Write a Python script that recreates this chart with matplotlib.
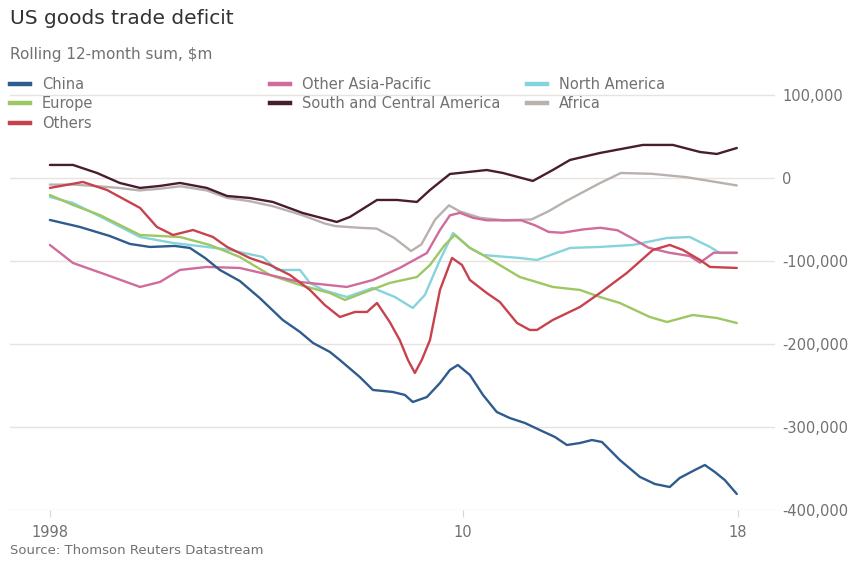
import matplotlib
matplotlib.use("Agg")
import matplotlib.pyplot as plt
from matplotlib.lines import Line2D

plt.rcParams['font.family'] = ['DejaVu Sans']

# ---- data (rolling 12-month sum, $m) ----
china_years = [1998.0, 1998.87, 1999.74, 2000.33, 2000.91, 2001.63, 2002.07, 2002.51, 2002.94,
               2003.52, 2004.10, 2004.77, 2005.27, 2005.65, 2006.14, 2006.43, 2007.01, 2007.39,
               2007.97, 2008.32, 2008.55, 2008.96, 2009.34, 2009.63, 2009.86, 2010.21, 2010.59,
               2010.99, 2011.37, 2011.81, 2012.24, 2012.68, 2013.03, 2013.41, 2013.76, 2014.05,
               2014.57, 2015.15, 2015.59, 2016.02, 2016.31, 2016.75, 2017.04, 2017.33, 2017.62,
               2017.97]
china_vals = [-50600, -59000, -69900, -79500, -83100, -81900, -84300, -96400, -110800,
              -124100, -144600, -171100, -185500, -198800, -209600, -219300, -239800, -255400,
              -257800, -261400, -269900, -263900, -247000, -231300, -225300, -237300, -261400,
              -281900, -289200, -295200, -303600, -312000, -321700, -319300, -315700, -318100,
              -339800, -360100, -368700, -372300, -361400, -351800, -345800, -354200, -363900,
              -380700]

europe_years = [1998.0, 1998.67, 1999.45, 2000.62, 2001.78, 2002.65, 2003.52, 2004.40, 2005.27,
                2006.14, 2006.58, 2007.10, 2007.88, 2008.67, 2009.05, 2009.48, 2009.77, 2010.21,
                2010.59, 2011.17, 2011.66, 2012.62, 2013.41, 2013.99, 2014.57, 2015.44, 2015.94,
                2016.69, 2017.39, 2017.97]
europe_vals = [-20500, -32500, -44600, -68700, -71100, -80700, -95200, -116900, -128900,
               -138600, -147000, -138600, -126500, -119300, -104800, -80700, -68700, -84300,
               -92800, -107200, -119300, -131300, -134900, -143400, -150600, -167500, -173500,
               -165100, -168700, -174700]

others_years = [1998.0, 1998.96, 1999.66, 2000.62, 2001.11, 2001.58, 2002.16, 2002.74, 2003.15,
                2003.81, 2004.40, 2004.98, 2005.56, 2005.99, 2006.43, 2006.87, 2007.22, 2007.51,
                2007.88, 2008.17, 2008.41, 2008.61, 2008.81, 2009.05, 2009.34, 2009.69, 2009.98,
                2010.21, 2010.70, 2011.08, 2011.58, 2011.95, 2012.16, 2012.62, 2013.41, 2013.99,
                2014.77, 2015.53, 2016.02, 2016.40, 2016.90, 2017.19, 2017.97]
others_vals = [-12000, -4800, -14500, -36100, -59000, -68700, -62700, -71100, -83100,
               -96400, -104800, -116900, -134900, -153000, -167500, -161400, -161400, -150600,
               -173500, -195200, -219300, -234900, -219300, -195200, -134900, -96400, -104800,
               -122900, -138600, -149400, -174700, -183100, -183100, -171100, -155400, -138600,
               -114500, -86700, -80700, -86700, -98800, -107200, -108400]

asia_years = [1998.0, 1998.67, 1999.66, 2000.62, 2001.20, 2001.78, 2002.56, 2003.52, 2004.40,
              2005.27, 2006.63, 2007.39, 2008.17, 2008.96, 2009.34, 2009.63, 2009.92, 2010.30,
              2010.70, 2011.20, 2011.70, 2012.10, 2012.50, 2012.90, 2013.50, 2014.00, 2014.50,
              2014.90, 2015.40, 2016.00, 2016.60, 2016.90, 2017.30, 2017.97]
asia_vals = [-80700, -102400, -116900, -131300, -125300, -110800, -107200, -108400, -116900,
             -125300, -131300, -122900, -108400, -90400, -62700, -45000, -42000, -48000,
             -51000, -51000, -51000, -57000, -65000, -66000, -62000, -60000, -63000,
             -72000, -84000, -90000, -94000, -102000, -90000, -90000]

sca_years = [1998.0, 1998.67, 1999.37, 2000.03, 2000.62, 2001.20, 2001.78, 2002.56, 2003.15,
             2003.81, 2004.48, 2005.35, 2006.34, 2006.72, 2007.51, 2008.09, 2008.67, 2009.05,
             2009.63, 2010.70, 2011.17, 2012.04, 2012.62, 2013.12, 2013.99, 2015.24, 2016.11,
             2016.90, 2017.39, 2017.97]
sca_vals = [15700, 15700, 6000, -6000, -12000, -9600, -6000, -12000, -21700,
            -24100, -28900, -42200, -53000, -47000, -26500, -26500, -28900, -14500,
            4800, 9600, 6000, -3600, 9600, 21700, 30100, 39800, 39800,
            31300, 28900, 36100]

namerica_years = [1998.0, 1998.67, 1999.66, 2000.62, 2001.58, 2002.56, 2003.23, 2004.19, 2004.60,
                  2005.27, 2005.56, 2005.94, 2006.63, 2007.39, 2008.03, 2008.55, 2008.90, 2009.34,
                  2009.72, 2010.21, 2010.59, 2011.66, 2012.16, 2013.12, 2013.99, 2014.95, 2015.94,
                  2016.60, 2017.19, 2017.48, 2017.97]
namerica_vals = [-22900, -30100, -50600, -71100, -78300, -83100, -86700, -95200, -110800,
                 -110800, -126500, -134900, -143400, -132500, -143400, -156600, -141000, -98800,
                 -66300, -84300, -92800, -96400, -98800, -84300, -83100, -80700, -72300,
                 -71100, -83100, -90400, -90400]

africa_years = [1998.0, 1998.7, 1999.4, 2000.0, 2000.6, 2001.2, 2001.8, 2002.56, 2003.15,
                2003.81, 2004.48, 2005.35, 2006.0, 2006.3, 2007.0, 2007.5, 2008.0, 2008.5,
                2008.8, 2009.2, 2009.6, 2009.9, 2010.5, 2011.2, 2012.0, 2012.5, 2013.0,
                2013.5, 2014.0, 2014.6, 2015.5, 2016.5, 2017.97]
africa_vals = [-8000, -8000, -10000, -12000, -15000, -13000, -10000, -15000, -24000,
               -28000, -34000, -45000, -55000, -58000, -60000, -61000, -72000, -88000,
               -80000, -50000, -33000, -40000, -48000, -51000, -50000, -40000, -28000,
               -17000, -6000, 6000, 5000, 1000, -9000]

series = [
    ("China", china_years, china_vals, "#2f5b8e"),
    ("Europe", europe_years, europe_vals, "#9dc763"),
    ("Others", others_years, others_vals, "#c8424e"),
    ("Other Asia-Pacific", asia_years, asia_vals, "#d06b9b"),
    ("South and Central America", sca_years, sca_vals, "#4a1c30"),
    ("North America", namerica_years, namerica_vals, "#86d4db"),
    ("Africa", africa_years, africa_vals, "#b9b1ae"),
]

y_ticks = [100000, 0, -100000, -200000, -300000, -400000]
y_labels = ["100,000", "0", "-100,000", "-200,000", "-300,000", "-400,000"]
x_ticks = [1998, 2010, 2018]
x_labels = ["1998", "10", "18"]

W, H = 849, 564
fig = plt.figure(figsize=(W / 100, H / 100), dpi=100)
fig.patch.set_facecolor("white")
ax = fig.add_axes([10 / W, 1 - 510 / H, 765 / W, 425 / H])
ax.set_facecolor("white")

draw_order = ["Africa", "North America", "Europe", "Other Asia-Pacific",
              "South and Central America", "Others", "China"]
handles = {}
for name, xs, ys, col in series:
    z = 2 + draw_order.index(name)
    ax.plot(xs, ys, color=col, lw=1.7, zorder=z,
            solid_capstyle="round", solid_joinstyle="round")
    handles[name] = Line2D([], [], color=col, lw=3.2)

ax.set_xlim(1996.84, 2019.08)
ax.set_ylim(-400000, 112000)
ax.set_yticks(y_ticks)
ax.set_yticklabels(y_labels)
ax.set_xticks(x_ticks)
ax.set_xticklabels(x_labels)
ax.yaxis.tick_right()
ax.yaxis.grid(True, color="#e7e3e0", lw=1.0, zorder=0)
for s in ax.spines.values():
    s.set_visible(False)
txt_grey = "#737070"
ax.tick_params(axis="y", length=0, pad=5, labelcolor=txt_grey, labelsize=10.5)
ax.tick_params(axis="x", length=5, width=0.8, color="#d9d5d2", pad=6,
               labelcolor=txt_grey, labelsize=10.5)

# title, subtitle, source
fig.text(10 / W, 1 - 19 / H, "US goods trade deficit", fontsize=14.5, color="#333131",
         va="center", ha="left")
fig.text(10 / W, 1 - 55 / H, "Rolling 12-month sum, $m", fontsize=11, color=txt_grey,
         va="center", ha="left")
fig.text(10 / W, 1 - 550 / H, "Source: Thomson Reuters Datastream", fontsize=9.5,
         color=txt_grey, va="center", ha="left")

# legend in three columns
cols = [
    (10, ["China", "Europe", "Others"]),
    (270, ["Other Asia-Pacific", "South and Central America"]),
    (527, ["North America", "Africa"]),
]
for xpx, names in cols:
    fig.legend([handles[n] for n in names], names, loc="upper left",
               bbox_to_anchor=(xpx / W, 1 - 77 / H), frameon=False, fontsize=10.5,
               handlelength=1.4, handletextpad=0.8, labelspacing=0.3, borderpad=0,
               borderaxespad=0, labelcolor=txt_grey)

fig.savefig("out.png", dpi=100, facecolor="white")
